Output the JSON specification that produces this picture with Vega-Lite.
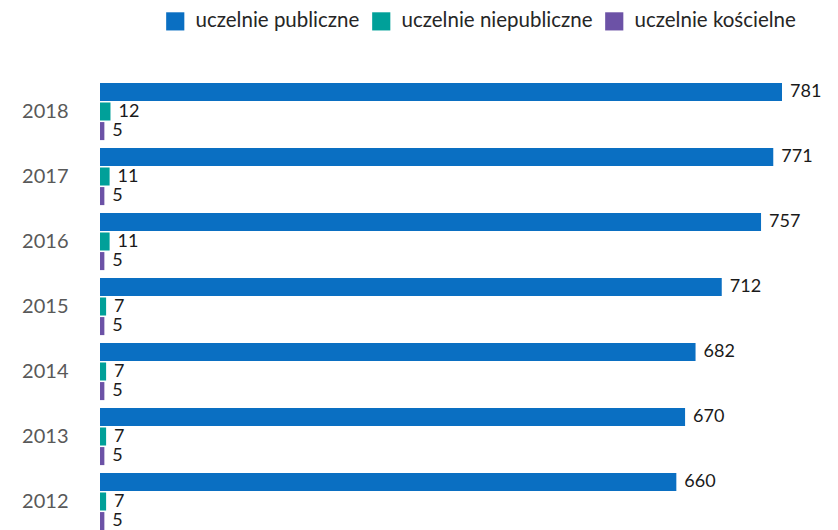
{
  "$schema": "https://vega.github.io/schema/vega-lite/v6.json",
  "autosize": {"type": "none"},
  "padding": {"left": 100, "top": 79, "right": 56, "bottom": 0},
  "width": 682,
  "height": 455,
  "background": "white",
  "config": {"view": {"stroke": null}, "font": "Lato"},
  "data": {"values": [
    {"year": "2018", "type": "uczelnie publiczne", "value": 781},
    {"year": "2018", "type": "uczelnie niepubliczne", "value": 12},
    {"year": "2018", "type": "uczelnie kościelne", "value": 5},
    {"year": "2017", "type": "uczelnie publiczne", "value": 771},
    {"year": "2017", "type": "uczelnie niepubliczne", "value": 11},
    {"year": "2017", "type": "uczelnie kościelne", "value": 5},
    {"year": "2016", "type": "uczelnie publiczne", "value": 757},
    {"year": "2016", "type": "uczelnie niepubliczne", "value": 11},
    {"year": "2016", "type": "uczelnie kościelne", "value": 5},
    {"year": "2015", "type": "uczelnie publiczne", "value": 712},
    {"year": "2015", "type": "uczelnie niepubliczne", "value": 7},
    {"year": "2015", "type": "uczelnie kościelne", "value": 5},
    {"year": "2014", "type": "uczelnie publiczne", "value": 682},
    {"year": "2014", "type": "uczelnie niepubliczne", "value": 7},
    {"year": "2014", "type": "uczelnie kościelne", "value": 5},
    {"year": "2013", "type": "uczelnie publiczne", "value": 670},
    {"year": "2013", "type": "uczelnie niepubliczne", "value": 7},
    {"year": "2013", "type": "uczelnie kościelne", "value": 5},
    {"year": "2012", "type": "uczelnie publiczne", "value": 660},
    {"year": "2012", "type": "uczelnie niepubliczne", "value": 7},
    {"year": "2012", "type": "uczelnie kościelne", "value": 5}
  ]},
  "encoding": {
    "y": {
      "field": "year", "type": "ordinal", "sort": "descending",
      "scale": {"paddingInner": 0.12, "paddingOuter": 0.06},
      "axis": {"title": null, "domain": false, "ticks": false, "labelFontSize": 20, "labelColor": "#595959", "labelPadding": 32}
    },
    "yOffset": {
      "field": "type", "type": "nominal",
      "sort": ["uczelnie publiczne", "uczelnie niepubliczne", "uczelnie kościelne"],
      "scale": {"paddingInner": 0.08, "paddingOuter": 0}
    },
    "x": {"field": "value", "type": "quantitative", "scale": {"domain": [0, 781], "nice": false}, "axis": null}
  },
  "layer": [
    {
      "mark": {"type": "bar"},
      "encoding": {
        "color": {
          "field": "type", "type": "nominal",
          "sort": ["uczelnie publiczne", "uczelnie niepubliczne", "uczelnie kościelne"],
          "scale": {"domain": ["uczelnie publiczne", "uczelnie niepubliczne", "uczelnie kościelne"], "range": ["#0a6fc2", "#00a099", "#6c52a6"]},
          "legend": {
            "title": null, "orient": "none", "legendX": 65, "legendY": -68,
            "direction": "horizontal", "symbolType": "square", "symbolSize": 330,
            "symbolStrokeWidth": 0, "symbolOpacity": 1, "labelFontSize": 20.5, "labelColor": "#262626",
            "labelOffset": 10, "columnPadding": 11, "labelLimit": 300
          }
        }
      }
    },
    {
      "mark": {"type": "text", "align": "left", "baseline": "middle", "dx": 8, "fontSize": 18, "color": "#1a1a1a"},
      "encoding": {"text": {"field": "value", "type": "quantitative"}}
    }
  ]
}
